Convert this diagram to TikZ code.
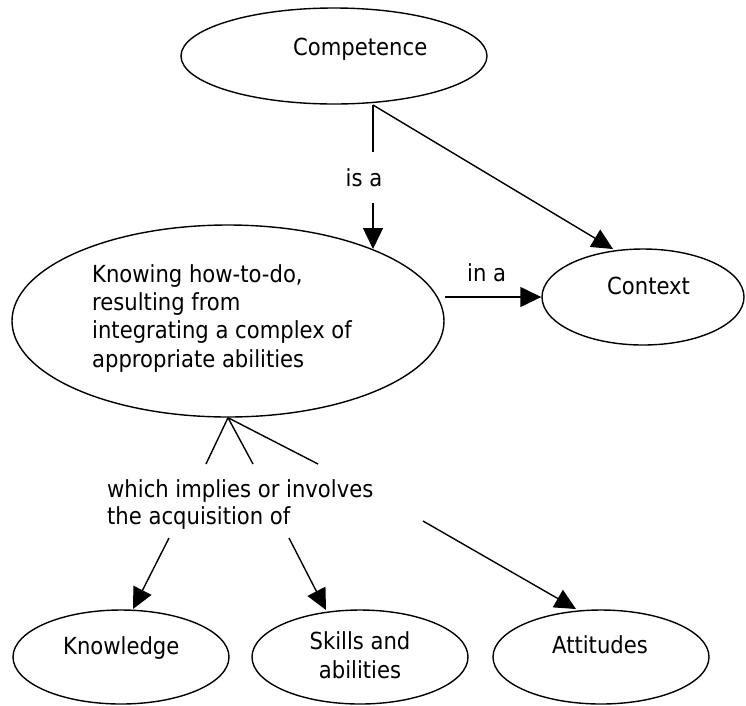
\documentclass[tikz,border=0pt]{standalone}
\usepackage{fontspec}
\setmainfont{DejaVu Sans Condensed}
\usetikzlibrary{shapes.geometric,arrows.meta}
\begin{document}
\begin{tikzpicture}[x=1pt,y=-1pt,
  conc/.style={draw,ellipse,line width=1.4pt,inner sep=0pt},
  txt/.style={inner sep=0pt,anchor=base west,font=\fontsize{23.5}{28.3}\selectfont,align=left},
  link/.style={line width=1.4pt},
  arr/.style={line width=1.4pt,-{Triangle[length=21pt,width=20pt]}}]
\useasboundingbox (0,0) rectangle (746,705);
% concepts
\node[conc,minimum width=306pt,minimum height=96pt] (comp) at (334,56) {};
\node[conc,minimum width=432pt,minimum height=192pt] (know) at (228,321) {};
\node[conc,minimum width=202pt,minimum height=96pt] (ctx) at (643,297) {};
\node[conc,minimum width=216pt,minimum height=94pt] (kn) at (121,657) {};
\node[conc,minimum width=216pt,minimum height=94pt] (sk) at (360,657) {};
\node[conc,minimum width=216pt,minimum height=94pt] (at) at (601,657) {};
% texts (base anchor = baseline of the last line)
\node[txt] (tcomp) at (293,55) {Competence};
\node[txt] (tknow) at (92,367) {Knowing how-to-do,\\resulting from\\integrating a complex of\\appropriate abilities};
\node[txt] (tctx) at (607,294) {Context};
\node[txt] (tkn) at (63,654) {Knowledge};
\node[txt,anchor=base,align=center] (tsk) at (360,678) {Skills and\\abilities};
\node[txt] (tat) at (552,653) {Attitudes};
% coordinates
\coordinate (c1) at (373,105);
\coordinate (k1) at (373,249);
\coordinate (x1) at (613,249);
\coordinate (ia) at (445,297);
\coordinate (b1) at (206,464);
\coordinate (b2) at (253,464);
\coordinate (b3) at (318,464);
\coordinate (a1) at (169,538);
\coordinate (a2) at (289,538);
\coordinate (a3) at (423,521);
\coordinate (kt) at (133,609);
\coordinate (st) at (326,610);
\coordinate (att) at (576,609);
% connectors
\draw[arr] (c1) -- (k1);
\node[fill=white,inner sep=0pt,minimum width=40pt,minimum height=51pt,font=\fontsize{23.5}{28.3}\selectfont] (isa) at (364,177.5) {is a};
\draw[arr] (c1) -- (x1);
\draw[arr] (ia) -- (ctx.west);
\node[txt] (tina) at (467,281) {in a};
\draw[link] (know.south) -- (b1);
\draw[link] (know.south) -- (b2);
\draw[link] (know.south) -- (b3);
\node[txt,font=\fontsize{23.5}{27}\selectfont] (twhich) at (107,524) {which implies or involves\\the acquisition of};
\draw[arr] (a1) -- (kt);
\draw[arr] (a2) -- (st);
\draw[arr] (a3) -- (att);
\end{tikzpicture}
\end{document}
